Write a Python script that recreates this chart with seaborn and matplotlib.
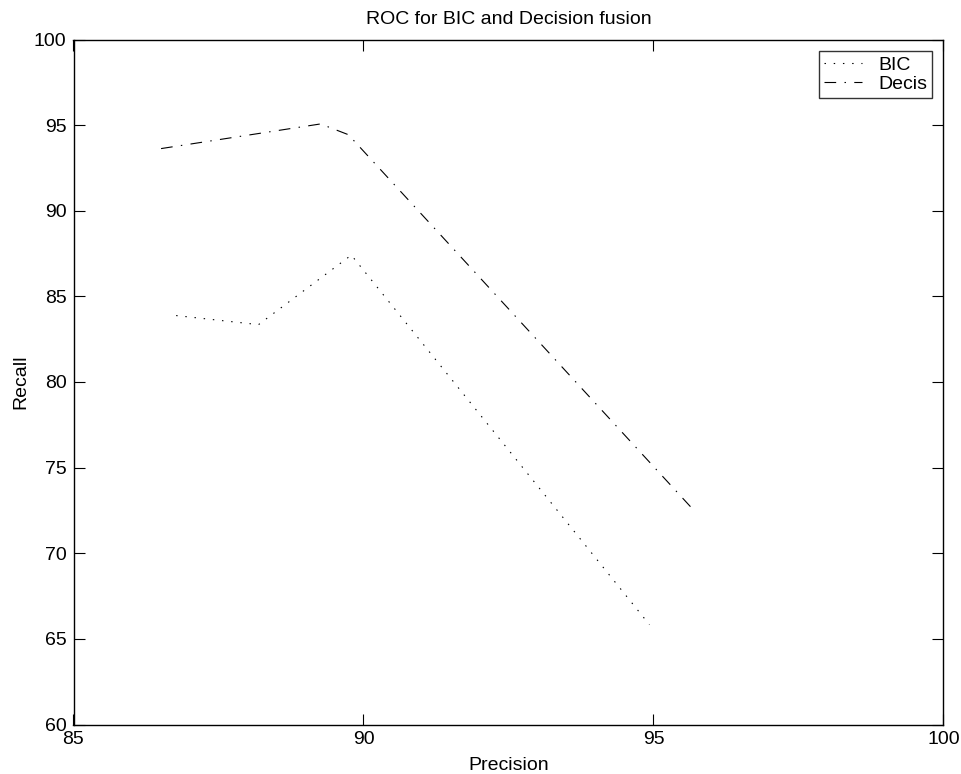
import pandas as pd
import seaborn as sns
import matplotlib.pyplot as plt

# Values (Precision, Recall)
bic_precision = [86.77, 88.19, 89.79, 94.93]
bic_recall = [83.88, 83.35, 87.41, 65.83]
decis_precision = [86.51, 89.26, 89.74, 95.67]
decis_recall = [93.63, 95.07, 94.44, 72.6]

df = pd.concat([
    pd.DataFrame({"Precision": bic_precision, "Recall": bic_recall, "method": "BIC"}),
    pd.DataFrame({"Precision": decis_precision, "Recall": decis_recall, "method": "Decis"}),
])

sns.set_style("white")
plt.rcParams["font.family"] = ["Liberation Sans", "DejaVu Sans"]
plt.rcParams["font.size"] = 14
plt.rcParams["text.color"] = "black"
plt.rcParams["axes.labelcolor"] = "black"
plt.rcParams["xtick.color"] = "black"
plt.rcParams["ytick.color"] = "black"

fig = plt.figure(figsize=(9.61, 7.74), dpi=100)
ax = fig.add_axes([73.5 / 961, 1 - 724.5 / 774, 870 / 961, 685 / 774])

styles = {"BIC": (0, (1.3, 7)), "Decis": (0, (10.5, 7.5, 1.3, 7.5))}
for name, ls in styles.items():
    sub = df[df["method"] == name]
    sns.lineplot(data=sub, x="Precision", y="Recall", ax=ax, color="black",
                 linewidth=0.8, linestyle=ls, label=name, sort=False,
                 estimator=None)

ax.set_xlim(85, 100)
ax.set_ylim(60, 100)
ax.set_xticks(range(85, 101, 5))
ax.set_yticks(range(60, 101, 5))
ax.set_title("ROC for BIC and Decision fusion", fontsize=14, pad=11)
ax.set_xlabel("Precision", fontsize=14, labelpad=6)
ax.set_ylabel("Recall", fontsize=14, labelpad=3)
ax.tick_params(direction="in", length=8, width=0.8, labelsize=14,
               top=True, right=True, bottom=True, left=True, pad=5)
for s in ax.spines.values():
    s.set_color("black")
    s.set_linewidth(1.0)

leg = ax.legend(loc="upper right", fontsize=14, frameon=True, fancybox=False,
                handlelength=2.0, borderpad=0.25, labelspacing=0.1,
                borderaxespad=0.6, handletextpad=0.8)
leg.get_frame().set_edgecolor("black")
leg.get_frame().set_linewidth(1.0)

plt.savefig("out.png", dpi=100)
